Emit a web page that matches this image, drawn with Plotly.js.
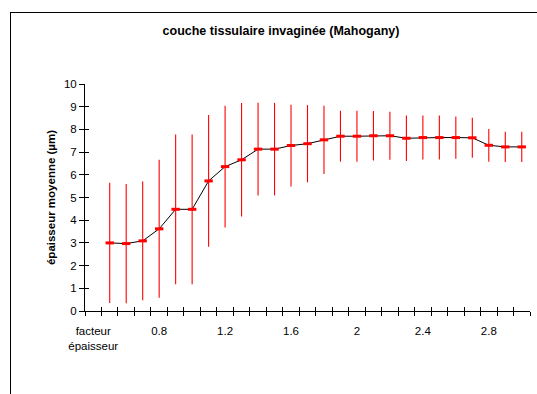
<!DOCTYPE html>
<html>
<head>
<meta charset="utf-8">
<script src="https://cdn.plot.ly/plotly-3.0.1.min.js"></script>
<style>
  html, body { margin: 0; padding: 0; background: #fff; }
  #frame { position: absolute; left: 10px; top: 12px; width: 600px; height: 500px;
           border-left: 1px solid #000; border-top: 1px solid #000; }
  #chart { position: absolute; left: 0; top: 0; width: 537px; height: 394px; }
</style>
</head>
<body>
<div id="frame"></div>
<div id="chart"></div>
<script>
const categories = ['facteur épaisseur','0.5','0.6','0.7','0.8','0.9','1.0','1.1','1.2','1.3','1.4',
  '1.5','1.6','1.7','1.8','1.9','2.0','2.1','2.2','2.3','2.4','2.5','2.6','2.7','2.8','2.9','3.0'];
const means = [null, 3.00, 2.97, 3.09, 3.62, 4.48, 4.48, 5.73, 6.36, 6.66, 7.13,
  7.13, 7.29, 7.37, 7.54, 7.70, 7.70, 7.72, 7.72, 7.61, 7.64, 7.64, 7.64, 7.63, 7.30, 7.23, 7.23];
const errors = [null, 2.65, 2.63, 2.62, 3.04, 3.30, 3.30, 2.90, 2.68, 2.50, 2.04,
  2.04, 1.80, 1.70, 1.50, 1.12, 1.12, 1.09, 1.06, 1.00, 0.97, 0.97, 0.93, 0.88, 0.72, 0.67, 0.67];
const tickCategories = ['facteur épaisseur','0.8','1.2','1.6','2.0','2.4','2.8'];
const tickLabels = ['facteur<br>épaisseur','0.8','1.2','1.6','2','2.4','2.8'];
const titleText = 'couche tissulaire invaginée (Mahogany)';
const yTitleText = 'épaisseur moyenne (µm)';

const FONT = 'Liberation Sans, Arial, sans-serif';
const nCat = categories.length;
const xRange = [-0.5, nCat - 0.5];

const traces = [
  {
    type: 'scatter', mode: 'lines+markers',
    x: categories, y: means,
    line: { color: '#000', width: 1 },
    marker: { symbol: 'line-ew', size: 6, color: '#ff0000', line: { color: '#ff0000', width: 3 } },
    error_y: { type: 'data', array: errors, visible: true, color: '#ff0000', thickness: 1.1, width: 0 },
    showlegend: false, hoverinfo: 'skip', cliponaxis: false
  },
  { type: 'scatter', mode: 'markers', x: [null], y: [null], xaxis: 'x2', yaxis: 'y2', showlegend: false, hoverinfo: 'skip' },
  { type: 'scatter', mode: 'markers', x: [null], y: [null], xaxis: 'x3', yaxis: 'y2', showlegend: false, hoverinfo: 'skip' }
];

const layout = {
  width: 537, height: 394,
  margin: { l: 85, r: 7, t: 84, b: 83 },
  paper_bgcolor: 'rgba(0,0,0,0)', plot_bgcolor: 'rgba(0,0,0,0)',
  font: { family: FONT, size: 11.5, color: '#000' },
  showlegend: false,
  title: {
    text: '<b>' + titleText + '</b>',
    font: { family: FONT, size: 12.5, color: '#000' },
    xref: 'container', yref: 'container',
    x: 281 / 537, xanchor: 'center',
    y: 1 - 31 / 394, yanchor: 'middle'
  },
  xaxis: {
    type: 'category', range: xRange,
    tickmode: 'array', tickvals: tickCategories, ticktext: tickLabels,
    ticks: '', showline: true, linecolor: '#000', linewidth: 1,
    showgrid: false, zeroline: false,
    tickfont: { family: FONT, size: 11.5, color: '#000' },
    ticklabelstandoff: 9, fixedrange: true
  },
  xaxis2: {
    overlaying: 'x', anchor: 'y', type: 'linear', range: xRange,
    tickmode: 'linear', tick0: -0.5, dtick: 1,
    ticks: 'outside', ticklen: 4, tickwidth: 1, tickcolor: '#000',
    showticklabels: false, showline: false, showgrid: false, zeroline: false
  },
  xaxis3: {
    overlaying: 'x', anchor: 'y', type: 'linear', range: xRange,
    tickmode: 'linear', tick0: -0.5, dtick: 1,
    ticks: 'inside', ticklen: 4, tickwidth: 1, tickcolor: '#000',
    showticklabels: false, showline: false, showgrid: false, zeroline: false
  },
  yaxis: {
    range: [0, 10], tickmode: 'linear', tick0: 0, dtick: 1,
    ticks: 'outside', ticklen: 5, tickwidth: 1, tickcolor: '#000',
    showline: true, linecolor: '#000', linewidth: 1,
    showgrid: false, zeroline: false,
    tickfont: { family: FONT, size: 11.5, color: '#000' },
    title: { text: '<b>' + yTitleText + '</b>', font: { family: FONT, size: 11.5, color: '#000' }, standoff: 5 }
  },
  yaxis2: {
    overlaying: 'y', anchor: 'x', side: 'left', range: [0, 10],
    tickmode: 'linear', tick0: 0, dtick: 1,
    ticks: 'inside', ticklen: 4, tickwidth: 1, tickcolor: '#000',
    showticklabels: false, showline: false, showgrid: false, zeroline: false
  }
};

Plotly.newPlot('chart', traces, layout, { staticPlot: true, displayModeBar: false });
</script>
</body>
</html>
